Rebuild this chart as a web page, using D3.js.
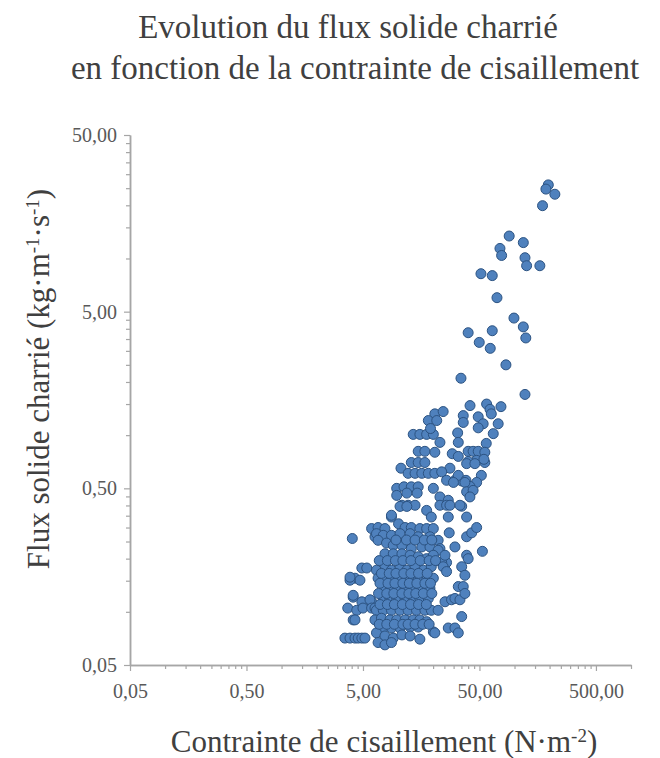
<!DOCTYPE html>
<html>
<head>
<meta charset="utf-8">
<script src="https://cdnjs.cloudflare.com/ajax/libs/d3/7.8.5/d3.min.js"></script>
<style>
  body { margin: 0; background: #fff; }
  text { font-family: "Liberation Serif", "DejaVu Serif", serif; }
</style>
</head>
<body>
<div id="chart"></div>
<script>
//Data : [contrainte de cisaillement (N/m2), flux solide charrie (kg/m/s)]
let pointsHigh = [
  [195,26.1],[186,24.7],[222,23.1],[174,19.9],[90,13.4],[119,12.3],[75,11.4],[77.5,10.4],
  [123,10.1],[127,9.1],[165,9.1],[51.5,8.2],[64.4,8.0],[70.7,6.0],[98.9,4.6],[119,4.1],
  [125,3.55],[40,3.8],[64.4,3.9],[49.8,3.35],[61.9,3.1],[84.4,2.5],[34.7,2.1],[123,1.7],
  [41.5,1.47],[57.6,1.5],[76.5,1.45],[61.6,1.4]
];
let pointsUpper = [
  [20.7,1.32],[24.4,1.36],[18.2,1.21],[21.5,1.21],[36.3,1.29],[36.3,1.18],[48.8,1.27],[53.8,1.16],
  [63.2,1.32],[72.4,1.16],[13.5,1.01],[15.4,1.01],[17.6,1.01],[20.1,1.01],[19.0,1.09],
  [22.9,0.91],[32.5,1.03],[32.9,0.91],[48.8,1.10],[65.7,1.02],
  [14.9,0.81],[17.0,0.81],[20.7,0.80],[29.2,0.785],[32.9,0.758],[40.0,0.81],[44.1,0.81],[48.8,0.81],
  [57.2,0.898],[55.6,0.80],[47.3,0.72],[40.0,0.71],[55.6,0.70],[54.6,0.73],[38.8,0.69],[45.7,0.69],
  [13.0,0.70],[14.9,0.70],[17.0,0.70],[10.6,0.65],[27.9,0.65],
  [12.2,0.608],[14.0,0.608],[16.0,0.608],[18.2,0.608],[20.7,0.608],[23.7,0.62],
  [26.1,0.555],[30.8,0.555],[35.2,0.55],[32.9,0.592],[38.3,0.555],[51.9,0.592],[47.3,0.54],[41.4,0.513],
  [37.5,0.54],[29.9,0.54],
  [9.74,0.50],[11.25,0.51],[13.0,0.51],[14.9,0.51],[20.1,0.50],[9.74,0.456],[11.9,0.47],[14.6,0.47],
  [22.9,0.447],[27.0,0.428],[38.8,0.478],[44.1,0.487],[41.4,0.447],[35.2,0.396],
  [10.8,0.401],[12.2,0.401],[14.0,0.401],[17.6,0.375],[22.9,0.401],[26.1,0.401],[27.9,0.401],[34.0,0.401],
  [10.4,0.395],[11.9,0.395],[19.3,0.344],[27.0,0.344],[38.8,0.344],[8.78,0.344],[8.78,0.352]
];
let pointsCluster = [
  [4.05,0.26],[5.93,0.296],[6.74,0.30],[7.72,0.296],[10.1,0.315],[11.5,0.30],[13.0,0.30],[15.4,0.296],
  [17.6,0.296],[20.1,0.296],[6.34,0.266],
  [6.53,0.277],[7.47,0.271],[8.78,0.271],[10.4,0.277],[12.7,0.277],[14.9,0.266],[18.8,0.266],[22.1,0.254],
  [27.5,0.28],[38.8,0.266],[42.9,0.28],[47.3,0.30],[53.0,0.22],[38.8,0.209],[26.1,0.19],[40.0,0.20],
  [23.7,0.19],[22.9,0.228],
  [6.74,0.254],[7.96,0.245],[9.1,0.238],[10.8,0.238],[13.0,0.228],[16.0,0.233],[18.8,0.233],[22.1,0.223],
  [25.3,0.209],[30.8,0.233],
  [7.72,0.213],[9.1,0.213],[10.8,0.213],[12.7,0.209],[14.9,0.205],[17.6,0.20],[20.1,0.209],
  [4.89,0.177],[5.39,0.177],[4.27,0.155],[4.71,0.151],[3.87,0.151],[3.87,0.157],[6.53,0.172],[7.72,0.184],
  [8.78,0.172],[10.4,0.177],[11.9,0.172],[14.0,0.18],[16.5,0.172],[19.3,0.18],[24.4,0.18],[26.1,0.169],
  [35.2,0.18],[37.5,0.161],
  [6.74,0.155],[7.96,0.155],[9.1,0.151],[10.8,0.151],[12.7,0.155],[14.9,0.151],[17.6,0.151],[20.1,0.155],
  [32.9,0.139],[36.3,0.139],[4.12,0.121],[4.12,0.124],[4.89,0.114],[5.93,0.114],[5.74,0.117],
  [7.72,0.136],[8.78,0.136],[10.1,0.136],[11.5,0.136],[13.5,0.139],[16.0,0.136],[18.8,0.136],
  [3.7,0.105],[4.42,0.102],[5.0,0.105],[5.93,0.105],[6.34,0.105],
  [7.47,0.119],[8.52,0.119],[9.74,0.119],[11.5,0.119],[13.5,0.119],[15.4,0.119],[18.2,0.119],
  [25.3,0.114],[28.8,0.117],[30.8,0.119],[34.0,0.117],[37.5,0.127],
  [6.53,0.102],[7.47,0.102],[8.78,0.102],[10.4,0.102],[12.2,0.102],[14.4,0.102],[17.0,0.102],[19.3,0.102],
  [22.1,0.102],[35.2,0.094],
  [4.12,0.09],[4.27,0.09],[6.34,0.09],[7.2,0.092],[8.52,0.09],[9.74,0.09],[11.5,0.09],[13.5,0.09],
  [15.4,0.09],[17.6,0.088],
  [3.5,0.071],[3.87,0.071],[4.27,0.071],[4.55,0.071],[4.89,0.071],[5.2,0.071],
  [7.47,0.081],[8.78,0.081],[10.4,0.081],[12.7,0.082],[14.9,0.082],[20.1,0.077],[20.7,0.076],
  [27.0,0.081],[30.8,0.081],[32.9,0.076],
  [6.53,0.076],[7.72,0.073],[9.1,0.071],[10.8,0.074],[12.7,0.073],[15.4,0.070],
  [6.74,0.067],[7.72,0.065],[8.78,0.067]
];
//Dense core, read between the rows above
let pointsCore = [
  [7.0,0.145],[8.2,0.145],[9.4,0.145],[11.0,0.145],[12.5,0.145],[14.5,0.145],[17.0,0.145],[19.0,0.145],
  [6.8,0.127],[8.0,0.127],[9.2,0.127],[10.8,0.127],[12.4,0.127],[14.2,0.127],[16.5,0.127],[19.5,0.127],
  [7.2,0.165],[8.4,0.165],[9.6,0.165],[11.2,0.165],[12.9,0.165],[15.0,0.165],[17.8,0.165],
  [6.9,0.195],[8.1,0.195],[9.5,0.195],[11.0,0.195],[12.9,0.195],[15.5,0.195],[18.5,0.195],[21.0,0.195],
  [7.0,0.11],[8.1,0.11],[9.3,0.11],[10.9,0.11],[12.8,0.11],[15.0,0.11],[17.5,0.11],
  [6.9,0.085],[8.0,0.085],[9.3,0.085],[11.0,0.085],[12.2,0.085],[14.0,0.085],[16.3,0.085],[18.5,0.085],
  [9.6,0.255],[11.8,0.255],[14.0,0.255],[16.8,0.255],[19.5,0.255]
];
let xTicks = [0.05, 0.5, 5, 50, 500];
let yTicks = [0.05, 0.5, 5, 50];

//Layout
let width = 660, height = 758;
let plot = {left: 130, right: 631, top: 135, bottom: 665};
let axisGrey = "#a6a6a6", textDark = "#404040", textTick = "#595959";
let serif = "'Liberation Serif', 'DejaVu Serif', serif";

let svg = d3.select("#chart")
  .append("svg")
  .attr("width", width)
  .attr("height", height);

let x = d3.scaleLog().domain([0.05, 1000]).range([plot.left, plot.right]);
let y = d3.scaleLog().domain([0.05, 50]).range([plot.bottom, plot.top]);

let frFormat = d => d.toFixed(2).replace(".", ",");

//Minor ticks : 0.1, 0.15 ... 0.45 in every decade (like Excel)
function minorTicks(majors, max) {
  let out = [];
  majors.forEach(m => {
    for (let k = 2; k <= 9; k++) { if (m * k <= max * 1.0001) out.push(m * k); }
  });
  return out;
}

//X axis
svg.append("g")
  .attr("class", "x minor")
  .attr("transform", "translate(0," + plot.bottom + ")")
  .call(d3.axisBottom(x).tickValues(minorTicks(xTicks, 1000)).tickFormat("").tickSize(4).tickSizeOuter(0));
svg.append("g")
  .attr("class", "x major")
  .attr("transform", "translate(0," + plot.bottom + ")")
  .call(d3.axisBottom(x).tickValues(xTicks).tickFormat(frFormat).tickSize(6).tickSizeOuter(0).tickPadding(13));

//Y axis
svg.append("g")
  .attr("class", "y minor")
  .attr("transform", "translate(" + plot.left + ",0)")
  .call(d3.axisLeft(y).tickValues(minorTicks(yTicks.slice(0, 3), 50)).tickFormat("").tickSize(4).tickSizeOuter(0));
svg.append("g")
  .attr("class", "y major")
  .attr("transform", "translate(" + plot.left + ",0)")
  .call(d3.axisLeft(y).tickValues(yTicks).tickFormat(frFormat).tickSize(6).tickSizeOuter(0).tickPadding(7));

svg.selectAll(".x, .y").attr("font-family", serif).attr("font-size", 20);
svg.selectAll(".domain").attr("stroke", axisGrey).attr("stroke-width", 1.5);
svg.selectAll(".tick line").attr("stroke", axisGrey).attr("stroke-width", 1.2);
svg.selectAll(".tick text").attr("fill", textTick);

//Points
let allPoints = pointsHigh.concat(pointsUpper, pointsCluster, pointsCore);
svg.append("g")
  .selectAll("circle")
  .data(allPoints)
  .enter().append("circle")
    .attr("cx", d => x(d[0]))
    .attr("cy", d => y(d[1]))
    .attr("r", 5)
    .attr("fill", "#4f81bd")
    .attr("stroke", "#2c5382")
    .attr("stroke-width", 1);

//Title
let title = svg.append("text")
  .attr("text-anchor", "middle")
  .attr("fill", textDark)
  .style("font-size", "33px");
title.append("tspan").attr("x", 348).attr("y", 38).text("Evolution du flux solide charrié");
title.append("tspan").attr("x", 355).attr("y", 79).text("en fonction de la contrainte de cisaillement");

//Axis titles with superscripts
function addTitle(sel, parts) {
  parts.forEach(p => {
    let t = sel.append("tspan").text(p.t);
    if (p.sup) t.attr("baseline-shift", "super").style("font-size", "19px");
  });
}
let xTitle = svg.append("text")
  .attr("x", 384).attr("y", 752)
  .attr("text-anchor", "middle")
  .attr("fill", textDark)
  .style("font-size", "31px");
addTitle(xTitle, [{t: "Contrainte de cisaillement (N·m"}, {t: "-2", sup: true}, {t: ")"}]);

let yTitle = svg.append("text")
  .attr("transform", "translate(49,379) rotate(-90)")
  .attr("text-anchor", "middle")
  .attr("fill", textDark)
  .style("font-size", "31px");
addTitle(yTitle, [{t: "Flux solide charrié (kg·m"}, {t: "-1", sup: true}, {t: "·s"}, {t: "-1", sup: true}, {t: ")"}]);
</script>
</body>
</html>
